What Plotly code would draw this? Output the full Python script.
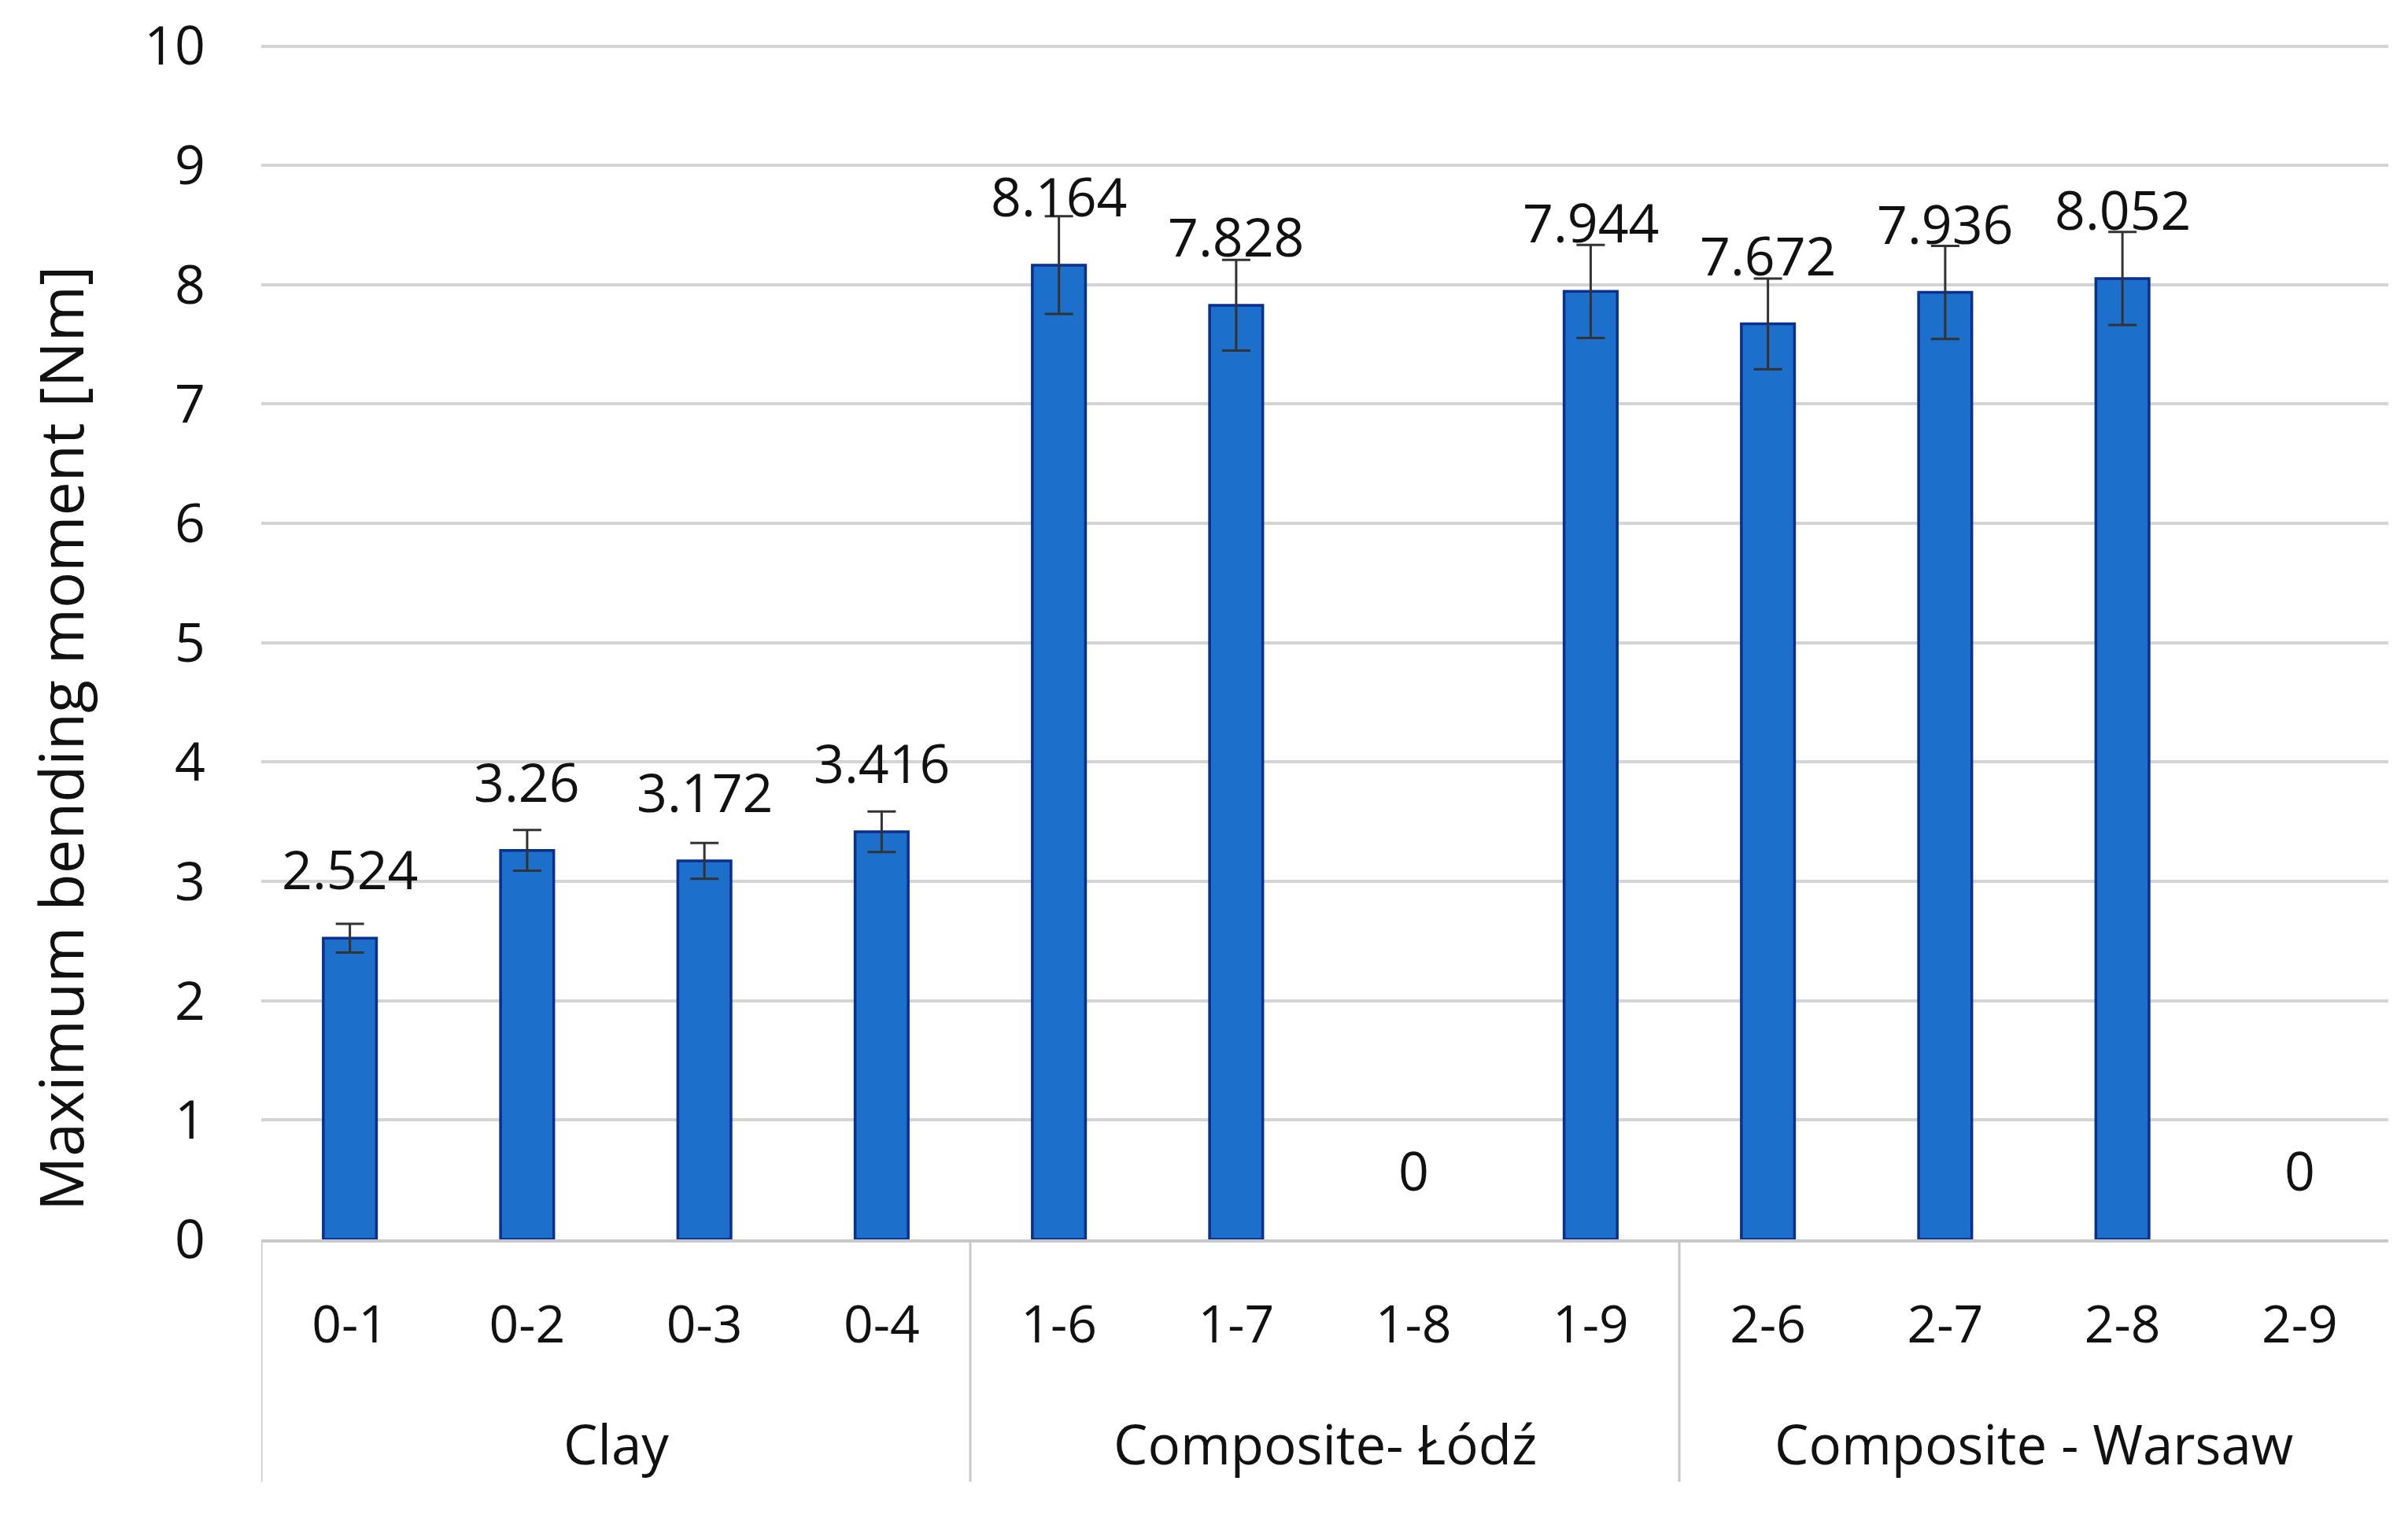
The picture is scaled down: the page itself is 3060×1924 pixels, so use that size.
import plotly.graph_objects as go

groups = ["Clay", "Composite- Łódź", "Composite - Warsaw"]
group_sizes = [4, 4, 4]
samples = ["0-1", "0-2", "0-3", "0-4", "1-6", "1-7", "1-8", "1-9", "2-6", "2-7", "2-8", "2-9"]
values = [2.524, 3.26, 3.172, 3.416, 8.164, 7.828, 0, 7.944, 7.672, 7.936, 8.052, 0]
errors = [0.12, 0.17, 0.15, 0.17, 0.41, 0.38, None, 0.39, 0.38, 0.39, 0.39, None]
y_ticks = [0, 1, 2, 3, 4, 5, 6, 7, 8, 9, 10]

FONT = "Open Sans"
W, H = 3060, 1924
OFF = 8  # page body margin offset
ML, MR, MT, MB = 332 - OFF, 25 + OFF, 57 - OFF, 349 + OFF
PLOT_W = W - ML - MR
PLOT_H = H - MT - MB
AXIS_Y = 1575  # absolute screen y of the category axis

fig = go.Figure()
fig.add_trace(go.Bar(
    x=samples, y=[v if v != 0 else None for v in values],
    marker=dict(color="#1c6fca", line=dict(color="#0a2f8c", width=3.5)),
    error_y=dict(type="data", array=errors, visible=True, color="#333333",
                 thickness=3, width=18),
    hoverinfo="x+y",
))

# data labels
for s, v in zip(samples, values):
    fig.add_annotation(x=s, y=v, xref="x", yref="y", text=f"{v:g}",
                       showarrow=False, yanchor="bottom", yshift=40,
                       font=dict(family=FONT, size=68, color="#111111"))

# group labels and dividers
start = 0
bounds = [-0.5]
for g, n in zip(groups, group_sizes):
    center = start + (n - 1) / 2
    fig.add_annotation(x=center, y=-(1834 - AXIS_Y) / PLOT_H, xref="x", yref="paper",
                       text=g, showarrow=False, yanchor="middle",
                       font=dict(family=FONT, size=69, color="#111111"))
    start += n
    bounds.append(start - 0.5)
for b in bounds[:-1]:
    fig.add_shape(type="line", xref="x", yref="paper", x0=b, x1=b, y0=0,
                  y1=-(1883 - AXIS_Y) / PLOT_H,
                  line=dict(color="#c8c8c8", width=3))

# y axis title
fig.add_annotation(x=-(332 - 76) / PLOT_W, y=(AXIS_Y - 939) / PLOT_H,
                   xref="paper", yref="paper", text="Maximum bending moment [Nm]",
                   textangle=-90, showarrow=False, xanchor="center", yanchor="middle",
                   font=dict(family=FONT, size=77, color="#111111"))

fig.update_layout(
    width=W, height=H,
    margin=dict(l=ML, r=MR, t=MT, b=MB, autoexpand=False),
    plot_bgcolor="white", paper_bgcolor="white",
    showlegend=False, bargap=0.7,
    font=dict(family=FONT, color="#111111"),
)
fig.update_xaxes(
    type="category", categoryorder="array", categoryarray=samples,
    showline=True, linecolor="#c8c8c8", linewidth=4,
    showgrid=False, ticks="", tickfont=dict(family=FONT, size=66, color="#111111"),
    ticklabelstandoff=48, range=[-0.5, len(samples) - 0.5],
)
fig.update_yaxes(
    range=[0, 10.01], tickvals=y_ticks, showgrid=True, gridcolor="#d4d4d4", gridwidth=4,
    zeroline=False, showline=False, ticks="",
    tickfont=dict(family=FONT, size=68, color="#111111"), ticklabelstandoff=70,
)

fig.write_html("out.html")
